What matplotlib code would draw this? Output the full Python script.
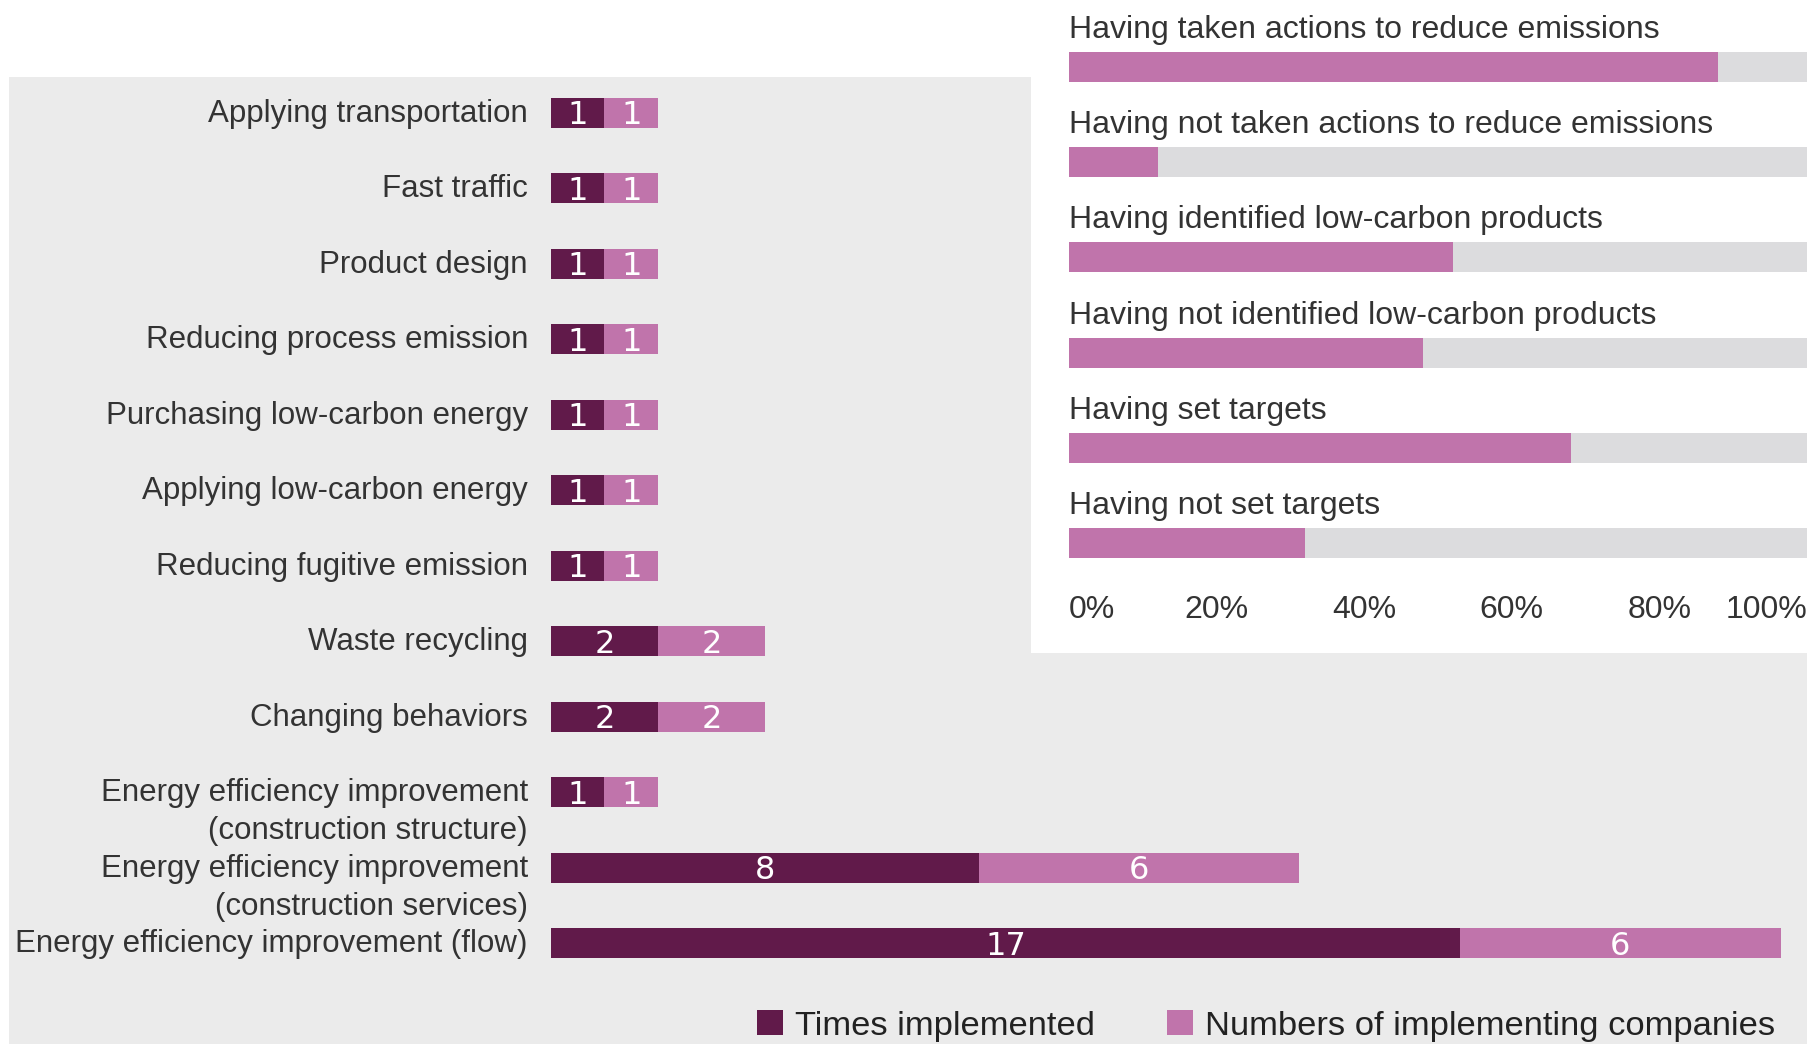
import matplotlib
matplotlib.use("Agg")
import matplotlib.pyplot as plt
from matplotlib.patches import Rectangle, Patch

# data
actions = ["Applying transportation", "Fast traffic", "Product design",
           "Reducing process emission", "Purchasing low-carbon energy",
           "Applying low-carbon energy", "Reducing fugitive emission",
           "Waste recycling", "Changing behaviors",
           "Energy efficiency improvement\n(construction structure)",
           "Energy efficiency improvement\n(construction services)",
           "Energy efficiency improvement (flow)"]
times_implemented = [1, 1, 1, 1, 1, 1, 1, 2, 2, 1, 8, 17]
num_companies = [1, 1, 1, 1, 1, 1, 1, 2, 2, 1, 6, 6]

status_labels = ["Having taken actions to reduce emissions",
                 "Having not taken actions to reduce emissions",
                 "Having identified low-carbon products",
                 "Having not identified low-carbon products",
                 "Having set targets",
                 "Having not set targets"]
status_share = [88, 12, 52, 48, 68, 32]
pct_ticks = [0, 20, 40, 60, 80, 100]
pct_labels = ["0%", "20%", "40%", "60%", "80%", "100%"]

legend_labels = ["Times implemented", "Numbers of implementing companies"]

# styling
DARK = "#611a4a"
LIGHT = "#c074ab"
TRACK = "#dcdcde"
BG = "#ebebeb"
TXT = "#333333"
REG = ["Liberation Sans", "DejaVu Sans"]
NUM = ["DejaVu Sans"]

W, H = 1807, 1044
fig = plt.figure(figsize=(W / 100, H / 100), dpi=100)

# grey panel + white inset area
fig.add_artist(Rectangle((9 / W, 0), 1 - 9 / W, 1 - 77 / H, transform=fig.transFigure,
                         facecolor=BG, edgecolor="none", zorder=-2))
fig.add_artist(Rectangle((1031 / W, 1 - 653 / H), 1 - 1031 / W, 653 / H, transform=fig.transFigure,
                         facecolor="white", edgecolor="none", zorder=-1))

# ---- main stacked bar chart
ax = fig.add_axes([551 / W, 1 - 981 / H, 1255 / W, 906 / H])
ax.set_facecolor("none")
y = range(len(actions))
ax.barh(y, times_implemented, height=0.4, color=DARK)
ax.barh(y, num_companies, left=times_implemented, height=0.4, color=LIGHT)
ax.set_xlim(0, 1255 / 53.46)
ax.set_ylim(len(actions) - 0.5, -0.5)
ax.axis("off")

fs_lab = 22.5
line_gap = 27.4  # points between label lines
for i, lab in enumerate(actions):
    for k, line in enumerate(lab.split("\n")):
        ax.annotate(line, xy=(0, i), xytext=(-16.6, -0.36 * fs_lab + 1.5 - k * line_gap),
                    textcoords="offset points", ha="right", va="baseline",
                    fontsize=fs_lab, family=REG, color=TXT)

fs_num = 23
for i, (a, b) in enumerate(zip(times_implemented, num_companies)):
    ax.annotate(str(a), xy=(a / 2, i), xytext=(0, -0.365 * fs_num), textcoords="offset points",
                ha="center", va="baseline", fontsize=fs_num, family=NUM, color="white")
    ax.annotate(str(b), xy=(a + b / 2, i), xytext=(0, -0.365 * fs_num), textcoords="offset points",
                ha="center", va="baseline", fontsize=fs_num, family=NUM, color="white")

# ---- inset: share of companies
ax2 = fig.add_axes([1069 / W, 1 - 590.6 / H, 738 / W, 571.2 / H])
ax2.set_facecolor("none")
y2 = range(len(status_labels))
ax2.barh(y2, [100] * len(status_labels), height=0.315, color=TRACK)
ax2.barh(y2, status_share, height=0.315, color=LIGHT)
ax2.set_xlim(0, 100)
ax2.set_ylim(len(status_labels) - 0.5, -0.5)
for s in ax2.spines.values():
    s.set_visible(False)
ax2.set_yticks([])
ax2.set_xticks(pct_ticks, pct_labels)
ax2.tick_params(axis="x", length=0, pad=3, labelsize=23, labelcolor=TXT)
for t in ax2.get_xticklabels():
    t.set_family(REG)
tl = ax2.get_xticklabels()
tl[0].set_ha("left")
tl[-1].set_ha("right")

fs_in = 23
for i, lab in enumerate(status_labels):
    ax2.annotate(lab, xy=(0, i), xytext=(0, 20.9), textcoords="offset points",
                 ha="left", va="baseline", fontsize=fs_in, family=REG, color=TXT)

# ---- legend
handles = [Patch(facecolor=DARK, edgecolor="none"), Patch(facecolor=LIGHT, edgecolor="none")]
fig.legend(handles, legend_labels, loc="center", bbox_to_anchor=(1266 / W, 1 - 1026 / H),
           ncol=2, frameon=False, prop={"family": REG, "size": 24.8},
           handlelength=0.75, handleheight=0.75, handletextpad=0.35, columnspacing=2.1,
           labelcolor="#222222", borderpad=0, borderaxespad=0)

fig.savefig("out.png", dpi=100)
